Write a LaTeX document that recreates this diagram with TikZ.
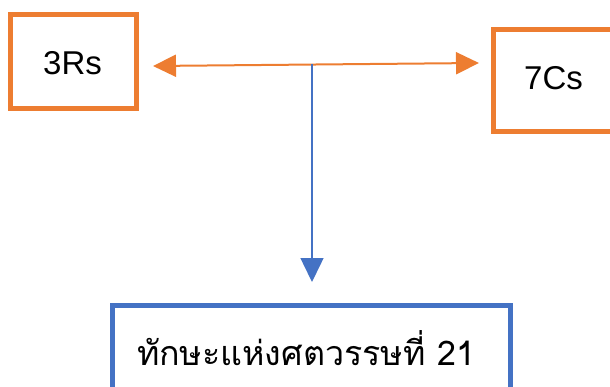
\documentclass[tikz,border=0pt]{standalone}
\usepackage{fontspec}
\setmainfont{Liberation Sans}
\newfontfamily\thaifont[Script=Thai]{Loma}
\usetikzlibrary{arrows.meta}
\definecolor{borange}{HTML}{ED7D31}
\definecolor{bblue}{HTML}{4472C4}
\tikzset{
  obox/.style={draw=borange, line width=5pt, inner sep=0pt},
  bbox/.style={draw=bblue, line width=5pt, inner sep=0pt},
  lbl/.style={font=\fontsize{33}{38}\selectfont, text=black},
  oarrow/.style={draw=borange, line width=2pt, {Triangle[length=23pt,width=22pt]}-{Triangle[length=23pt,width=22pt]}},
  barrow/.style={draw=bblue, line width=1.5pt, -{Triangle[length=24pt,width=23pt]}}
}
\begin{document}
\begin{tikzpicture}[x=1pt,y=1pt]
\useasboundingbox (0,0) rectangle (610,386);
\clip (0,0) rectangle (610,386);
% 3Rs box
\node[obox, minimum width=126pt, minimum height=94pt] (r) at (73.5,324.5) {};
\node[lbl] (rt) at (72.5,322.5) {3Rs};
% 7Cs box
\node[obox, minimum width=129.5pt, minimum height=102pt, anchor=north west] (c) at (490.5,358.5) {};
\node[lbl] (ct) at (553.5,308) {7Cs};
% bottom box
\node[bbox, minimum width=398pt, minimum height=110pt, anchor=north west] (t) at (109.5,83.5) {};
\node[lbl, font=\thaifont\fontsize{34}{38}\selectfont, anchor=base] (tt) at (306,21) {ทักษะแห่งศตวรรษที่ 21};
% connectors
\coordinate (la) at (153,320);
\coordinate (ra) at (479,323);
\coordinate (ja) at (312,322);
\coordinate (da) at (312,104);
\draw[oarrow] (la) -- (ra);
\draw[barrow] (ja) -- (da);
\end{tikzpicture}
\end{document}
